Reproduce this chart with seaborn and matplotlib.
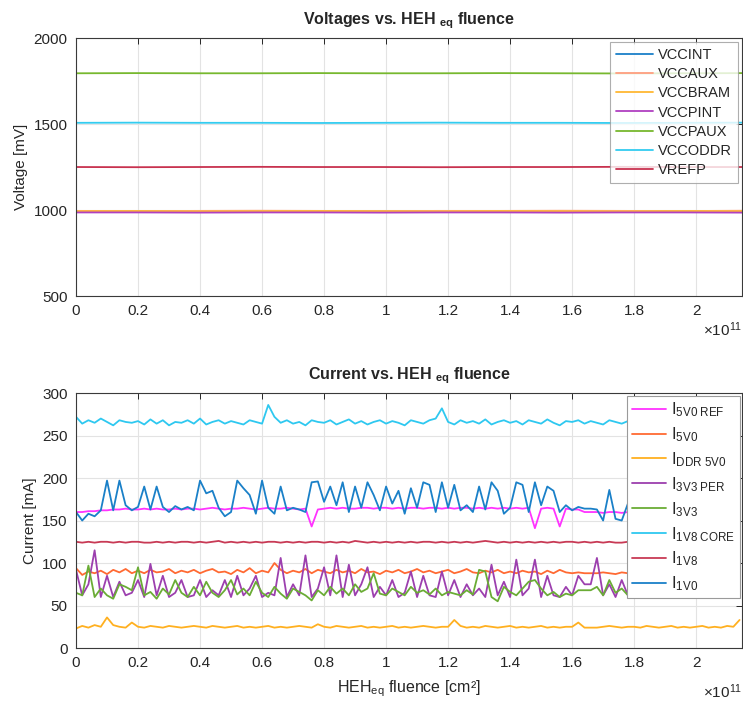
import numpy as np
import matplotlib
matplotlib.use("Agg")
import matplotlib.pyplot as plt
import seaborn as sns
from matplotlib.ticker import FuncFormatter

# sample grids, fluence in units of 1e11
fluence_v = np.linspace(0, 2.15, 12)
fluence_i = np.linspace(0, 2.14, 108)

# Voltages [mV]
vccint = [992, 993, 991, 993, 992, 993, 992, 991, 993, 992, 993, 994]
vccaux = [995, 994, 995, 996, 995, 994, 995, 995, 996, 995, 994, 996]
vccbram = [993, 994, 992, 993, 994, 993, 992, 994, 993, 992, 994, 993]
vccpint = [986, 986, 985, 986, 986, 985, 986, 986, 985, 986, 986, 985]
vccpaux = [1795, 1796, 1795, 1795, 1796, 1795, 1795, 1796, 1795, 1794, 1795, 1796]
vccoddr = [1507, 1508, 1507, 1507, 1506, 1507, 1508, 1507, 1507, 1506, 1507, 1508]
vrefp = [1250, 1249, 1250, 1251, 1250, 1250, 1249, 1250, 1250, 1251, 1250, 1250]

voltage_names = ["VCCINT", "VCCAUX", "VCCBRAM", "VCCPINT", "VCCPAUX", "VCCODDR", "VREFP"]
voltage_colors = ["#1a7fc8", "#ff9f80", "#ffb833", "#b040c0", "#77b82e", "#33ccf0", "#c8324f"]

# Currents [mA]
i5v0_ref = [160, 160, 161, 161, 162, 162, 163, 163, 164, 163,
            163, 164, 163, 164, 163, 163, 164, 163, 164, 164,
            163, 164, 165, 164, 163, 164, 164, 165, 164, 163,
            164, 165, 164, 164, 165, 164, 163, 164, 143, 163,
            164, 165, 164, 165, 164, 164, 165, 165, 164, 165,
            165, 164, 165, 164, 165, 165, 164, 165, 165, 164,
            165, 164, 165, 165, 164, 165, 164, 165, 164, 165,
            164, 165, 164, 165, 141, 164, 165, 164, 143, 164,
            163, 163, 160, 160, 160, 159, 160, 160, 159, 160,
            160, 159, 160, 160, 159, 160, 160, 159, 160, 160,
            159, 160, 160, 159, 160, 160, 159, 160]
i5v0 = [94, 86, 90, 88, 91, 87, 92, 89, 93, 88,
        91, 88, 92, 89, 90, 93, 88, 91, 89, 92,
        88, 91, 93, 89, 90, 87, 92, 89, 94, 88,
        91, 89, 100, 92, 88, 91, 89, 93, 88, 92,
        90, 88, 92, 89, 91, 88, 93, 89, 90, 87,
        91, 89, 92, 88, 90, 93, 89, 91, 88, 90,
        92, 88, 90, 93, 89, 88, 91, 89, 92, 88,
        90, 88, 91, 89, 90, 87, 91, 88, 92, 89,
        88, 89, 88, 88, 88, 89, 88, 87, 89, 88,
        90, 88, 91, 89, 90, 88, 91, 89, 90, 88,
        91, 89, 90, 88, 91, 89, 90, 95]
iddr_5v0 = [23, 26, 24, 27, 25, 36, 27, 25, 24, 30,
            25, 24, 26, 25, 24, 26, 25, 24, 25, 26,
            25, 24, 26, 25, 24, 25, 26, 24, 25, 24,
            25, 26, 24, 25, 24, 25, 26, 25, 24, 28,
            25, 24, 26, 25, 24, 25, 26, 24, 25, 24,
            25, 26, 24, 25, 24, 25, 26, 25, 24, 25,
            25, 33, 26, 24, 25, 24, 26, 25, 24, 25,
            26, 24, 25, 24, 25, 26, 24, 25, 24, 25,
            25, 30, 24, 24, 24, 25, 26, 25, 24, 25,
            25, 24, 26, 25, 24, 25, 26, 24, 25, 24,
            25, 26, 24, 25, 24, 26, 25, 33]
i3v3_per = [92, 62, 75, 115, 60, 85, 60, 78, 62, 65,
            80, 60, 99, 62, 85, 60, 65, 80, 60, 62,
            80, 60, 68, 62, 80, 60, 85, 62, 70, 85,
            60, 65, 62, 106, 60, 75, 62, 109, 60, 70,
            95, 62, 109, 60, 98, 62, 75, 95, 60, 72,
            62, 80, 60, 65, 90, 60, 85, 62, 60, 90,
            62, 80, 60, 75, 62, 70, 60, 98, 62, 78,
            60, 104, 62, 70, 104, 60, 85, 62, 60, 72,
            62, 85, 75, 75, 106, 62, 75, 60, 80, 62,
            60, 85, 62, 70, 95, 60, 65, 80, 62, 60,
            90, 62, 70, 60, 85, 62, 60, 65]
i3v3 = [65, 62, 97, 60, 70, 62, 58, 75, 72, 68,
        95, 62, 66, 58, 70, 63, 80, 65, 60, 72,
        62, 78, 65, 60, 68, 80, 63, 70, 62, 78,
        65, 60, 72, 64, 58, 70, 66, 62, 56, 68,
        62, 72, 64, 70, 62, 75, 66, 70, 88, 64,
        62, 70, 66, 62, 72, 65, 68, 63, 70, 62,
        66, 64, 62, 68, 63, 92, 90, 60, 55, 72,
        66, 62, 70, 78, 80, 70, 62, 66, 60, 64,
        62, 68, 68, 68, 72, 62, 80, 65, 70, 62,
        66, 70, 62, 75, 64, 68, 60, 72, 65, 62,
        78, 64, 68, 62, 70, 60, 66, 75]
i1v8_core = [272, 264, 268, 265, 270, 266, 262, 268, 266, 265,
             267, 263, 269, 264, 268, 262, 266, 265, 268, 264,
             270, 263, 266, 268, 264, 267, 265, 263, 268, 266,
             264, 286, 272, 265, 268, 264, 266, 262, 268, 266,
             265, 268, 263, 266, 269, 264, 267, 263, 266, 268,
             264, 267, 265, 262, 268, 266, 264, 268, 270, 282,
             266, 263, 268, 265, 267, 264, 269, 263, 266, 268,
             265, 267, 263, 268, 266, 264, 269, 265, 262, 267,
             266, 268, 264, 267, 265, 263, 268, 266, 264, 267,
             265, 268, 264, 266, 263, 267, 265, 268, 264, 266,
             267, 264, 266, 265, 263, 266, 264, 262]
i1v8 = [125, 124, 125, 124, 125, 125, 124, 125, 124, 125,
        125, 124, 124, 125, 124, 125, 124, 125, 125, 124,
        125, 124, 125, 126, 124, 125, 124, 125, 124, 125,
        124, 125, 125, 124, 125, 124, 125, 124, 125, 125,
        124, 125, 124, 125, 124, 126, 125, 124, 125, 124,
        125, 124, 125, 124, 125, 124, 125, 125, 124, 125,
        124, 125, 124, 125, 124, 125, 126, 125, 124, 125,
        124, 125, 124, 125, 124, 125, 124, 125, 124, 125,
        125, 124, 125, 124, 125, 124, 125, 124, 124, 125,
        124, 125, 124, 125, 124, 125, 124, 125, 124, 125,
        124, 125, 124, 124, 125, 124, 125, 124]
i1v0 = [160, 150, 158, 155, 162, 197, 162, 197, 168, 162,
        166, 190, 163, 190, 166, 160, 167, 163, 166, 162,
        197, 182, 185, 165, 155, 160, 197, 188, 180, 158,
        197, 165, 158, 190, 162, 165, 163, 160, 195, 196,
        172, 190, 168, 195, 160, 190, 165, 195, 180, 162,
        190, 170, 185, 158, 188, 165, 195, 192, 160, 195,
        165, 192, 162, 168, 160, 190, 163, 195, 185, 158,
        165, 195, 192, 160, 195, 168, 190, 185, 160, 168,
        162, 166, 164, 164, 163, 150, 186, 152, 150, 170,
        160, 190, 162, 165, 195, 160, 163, 188, 165, 160,
        192, 162, 166, 160, 190, 163, 160, 172]

current_series = [i5v0_ref, i5v0, iddr_5v0, i3v3_per, i3v3, i1v8_core, i1v8, i1v0]
current_names = [r"I$_{\rm 5V0\ REF}$", r"I$_{\rm 5V0}$", r"I$_{\rm DDR\ 5V0}$", r"I$_{\rm 3V3\ PER}$",
                 r"I$_{\rm 3V3}$", r"I$_{\rm 1V8\ CORE}$", r"I$_{\rm 1V8}$", r"I$_{\rm 1V0}$"]
current_colors = ["#ff33ff", "#ff6a33", "#ffb020", "#9c3fae", "#6aac35", "#2ec8f0", "#c83a55", "#1a80c8"]

sns.set_theme(style="white")
plt.rcParams['font.family'] = ['Liberation Sans', 'DejaVu Sans']
plt.rcParams['mathtext.fontset'] = 'custom'
plt.rcParams['mathtext.rm'] = 'Liberation Sans'
plt.rcParams['mathtext.bf'] = 'Liberation Sans:bold'
plt.rcParams['mathtext.it'] = 'Liberation Sans:italic'

fig = plt.figure(figsize=(7.43, 7.04), dpi=100)
ax1 = fig.add_axes([0.1023, 0.5795, 0.8964, 0.3665])
ax2 = fig.add_axes([0.1023, 0.0795, 0.8964, 0.3622])


def style_axes(ax):
    ax.set_xlim(0, 2.148)
    ax.set_xticks(np.arange(0, 2.01, 0.2))
    ax.xaxis.set_major_formatter(FuncFormatter(lambda v, p: f"{round(v, 1):g}"))
    ax.grid(True, color="#e3e3e3", linewidth=0.8)
    ax.set_axisbelow(True)
    ax.tick_params(direction="in", top=True, right=True, length=4, width=0.7,
                   labelsize=11, colors="#262626", pad=6)
    for sp in ax.spines.values():
        sp.set_color("#3a3a3a")
        sp.set_linewidth(0.8)


# Voltages plot
for vals, name, col in zip([vccint, vccaux, vccbram, vccpint, vccpaux, vccoddr, vrefp],
                           voltage_names, voltage_colors):
    sns.lineplot(x=fluence_v, y=vals, ax=ax1, color=col, label=name, linewidth=1.3)
style_axes(ax1)
ax1.set_ylim(500, 2000)
ax1.set_yticks([500, 1000, 1500, 2000])
ax1.set_ylabel("Voltage [mV]", fontsize=11, color="#262626")
ax1.set_title(r"Voltages vs. HEH $_{\mathbf{eq}}$ fluence", fontsize=11.5, fontweight="bold", pad=10)
ax1.text(1.0, -0.13, r"$\times$10$^{11}$", transform=ax1.transAxes, ha="right", va="center",
         fontsize=11, color="#262626")
leg1 = ax1.legend(loc="upper right", fontsize=10.5, frameon=True, fancybox=False, borderaxespad=0.3,
                  handlelength=2.6, handletextpad=0.3, labelspacing=0.35, borderpad=0.4)
leg1.get_frame().set_edgecolor("#9a9a9a")
leg1.get_frame().set_linewidth(0.8)

# Currents plot
for vals, name, col in zip(current_series, current_names, current_colors):
    sns.lineplot(x=fluence_i, y=vals, ax=ax2, color=col, label=name, linewidth=1.3)
style_axes(ax2)
ax2.set_ylim(0, 300)
ax2.set_yticks(np.arange(0, 301, 50))
ax2.set_ylabel("Current [mA]", fontsize=11, color="#262626")
ax2.set_xlabel(r"HEH$_{\rm eq}$ fluence [cm²]", fontsize=11.5, color="#262626", labelpad=6)
ax2.set_title(r"Current vs. HEH $_{\mathbf{eq}}$ fluence", fontsize=11.5, fontweight="bold", pad=10)
ax2.text(1.0, -0.17, r"$\times$10$^{11}$", transform=ax2.transAxes, ha="right", va="center",
         fontsize=11, color="#262626")
leg2 = ax2.legend(loc="upper right", fontsize=12, frameon=True, fancybox=False, borderaxespad=0.15,
                  handlelength=2.0, handletextpad=0.3, labelspacing=0.37, borderpad=0.3, framealpha=1)
leg2.get_frame().set_edgecolor("#9a9a9a")
leg2.get_frame().set_linewidth(0.8)

fig.savefig("out.png", dpi=100)
